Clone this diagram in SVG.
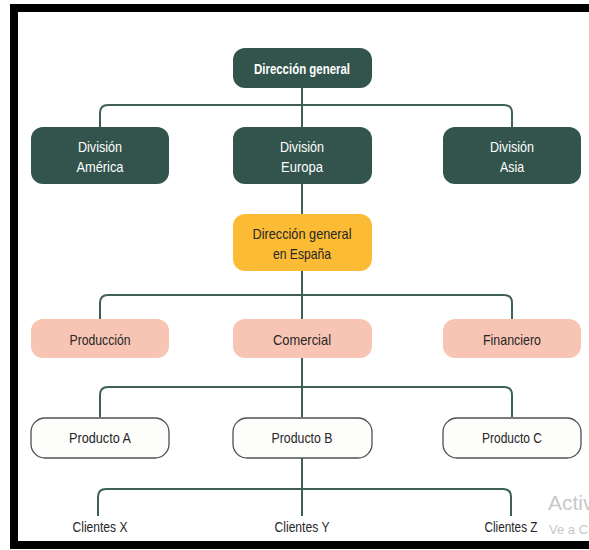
<svg xmlns="http://www.w3.org/2000/svg" width="589" height="550" viewBox="0 0 589 550">
  <style>
    .lbl { font-family: "Liberation Sans", Arial, sans-serif; font-size: 15px; text-anchor: middle; }
    .light { fill: #ffffff; }
    .dark { fill: #262626; }
    .bold { font-weight: bold; }
    .dir { fill: #33544c; }
    .esp { fill: #fbbb35; }
    .dept { fill: #f8c4b3; }
    .prod { fill: #fdfdfb; stroke: #505050; stroke-width: 1.3; }
    .wire { fill: none; stroke: #3f6058; stroke-width: 2; }
    .wm { font-family: "Liberation Sans", Arial, sans-serif; fill: #c8c8c8; }
  </style>

  <rect x="0" y="0" width="589" height="550" fill="#ffffff"/>
  <!-- frame -->
  <rect x="10" y="4" width="579" height="8" fill="#000000"/>
  <rect x="10" y="4" width="8" height="545" fill="#000000"/>
  <rect x="10" y="541" width="579" height="8" fill="#000000"/>

  <!-- connectors -->
  <g id="connectors">
    <path class="wire" d="M302 88 V128"/>
    <path class="wire" d="M100 128 V113 Q100 105 108 105 H504 Q512 105 512 113 V128"/>
    <path class="wire" d="M302 184 V214"/>
    <path class="wire" d="M302 271 V319"/>
    <path class="wire" d="M100 319 V303 Q100 295 108 295 H504 Q512 295 512 303 V319"/>
    <path class="wire" d="M302 358 V417"/>
    <path class="wire" d="M100 417 V395 Q100 387 108 387 H504 Q512 387 512 395 V417"/>
    <path class="wire" d="M302 458 V516"/>
    <path class="wire" d="M98 516 V497 Q98 489 106 489 H503 Q511 489 511 497 V516"/>
  </g>

  <g id="direccion-general">
    <rect class="dir" x="233" y="48" width="139" height="40" rx="12"/>
    <text class="lbl light bold" x="302" y="74" textLength="96" lengthAdjust="spacingAndGlyphs">Dirección general</text>
  </g>

  <g id="division-america">
    <rect class="dir" x="31" y="127" width="138" height="57" rx="12"/>
    <text class="lbl light" x="100" y="152" textLength="44" lengthAdjust="spacingAndGlyphs">División</text>
    <text class="lbl light" x="100" y="172" textLength="47" lengthAdjust="spacingAndGlyphs">América</text>
  </g>

  <g id="division-europa">
    <rect class="dir" x="233" y="127" width="139" height="57" rx="12"/>
    <text class="lbl light" x="302" y="152" textLength="44" lengthAdjust="spacingAndGlyphs">División</text>
    <text class="lbl light" x="302" y="172" textLength="42" lengthAdjust="spacingAndGlyphs">Europa</text>
  </g>

  <g id="division-asia">
    <rect class="dir" x="443" y="127" width="138" height="57" rx="12"/>
    <text class="lbl light" x="512" y="152" textLength="44" lengthAdjust="spacingAndGlyphs">División</text>
    <text class="lbl light" x="512" y="172" textLength="24" lengthAdjust="spacingAndGlyphs">Asia</text>
  </g>

  <g id="direccion-espana">
    <rect class="esp" x="233" y="214" width="139" height="57" rx="12"/>
    <text class="lbl dark" x="302" y="239" textLength="99" lengthAdjust="spacingAndGlyphs">Dirección general</text>
    <text class="lbl dark" x="302" y="259" textLength="58" lengthAdjust="spacingAndGlyphs">en España</text>
  </g>

  <g id="produccion">
    <rect class="dept" x="31" y="319" width="138" height="39" rx="12"/>
    <text class="lbl dark" x="100" y="345" textLength="61" lengthAdjust="spacingAndGlyphs">Producción</text>
  </g>

  <g id="comercial">
    <rect class="dept" x="233" y="319" width="139" height="39" rx="12"/>
    <text class="lbl dark" x="302" y="345" textLength="58" lengthAdjust="spacingAndGlyphs">Comercial</text>
  </g>

  <g id="financiero">
    <rect class="dept" x="443" y="319" width="138" height="39" rx="12"/>
    <text class="lbl dark" x="512" y="345" textLength="58" lengthAdjust="spacingAndGlyphs">Financiero</text>
  </g>

  <g id="producto-a">
    <rect class="prod" x="31" y="418" width="138" height="40" rx="14"/>
    <text class="lbl dark" x="100" y="443" textLength="62" lengthAdjust="spacingAndGlyphs">Producto A</text>
  </g>

  <g id="producto-b">
    <rect class="prod" x="233" y="418" width="139" height="40" rx="14"/>
    <text class="lbl dark" x="302" y="443" textLength="61" lengthAdjust="spacingAndGlyphs">Producto B</text>
  </g>

  <g id="producto-c">
    <rect class="prod" x="443" y="418" width="138" height="40" rx="14"/>
    <text class="lbl dark" x="512" y="443" textLength="60" lengthAdjust="spacingAndGlyphs">Producto C</text>
  </g>

  <g id="clientes-x">
    <text class="lbl dark" x="100" y="532" textLength="55" lengthAdjust="spacingAndGlyphs">Clientes X</text>
  </g>
  <g id="clientes-y">
    <text class="lbl dark" x="302" y="532" textLength="55" lengthAdjust="spacingAndGlyphs">Clientes Y</text>
  </g>
  <g id="clientes-z">
    <text class="lbl dark" x="511" y="532" textLength="53" lengthAdjust="spacingAndGlyphs">Clientes Z</text>
  </g>

  <!-- system overlay text at the lower right, running past the right edge -->
  <text class="wm" x="548" y="510" font-size="21">Activ</text>
  <text class="wm" x="549" y="534" font-size="13">Ve a C</text>
</svg>
